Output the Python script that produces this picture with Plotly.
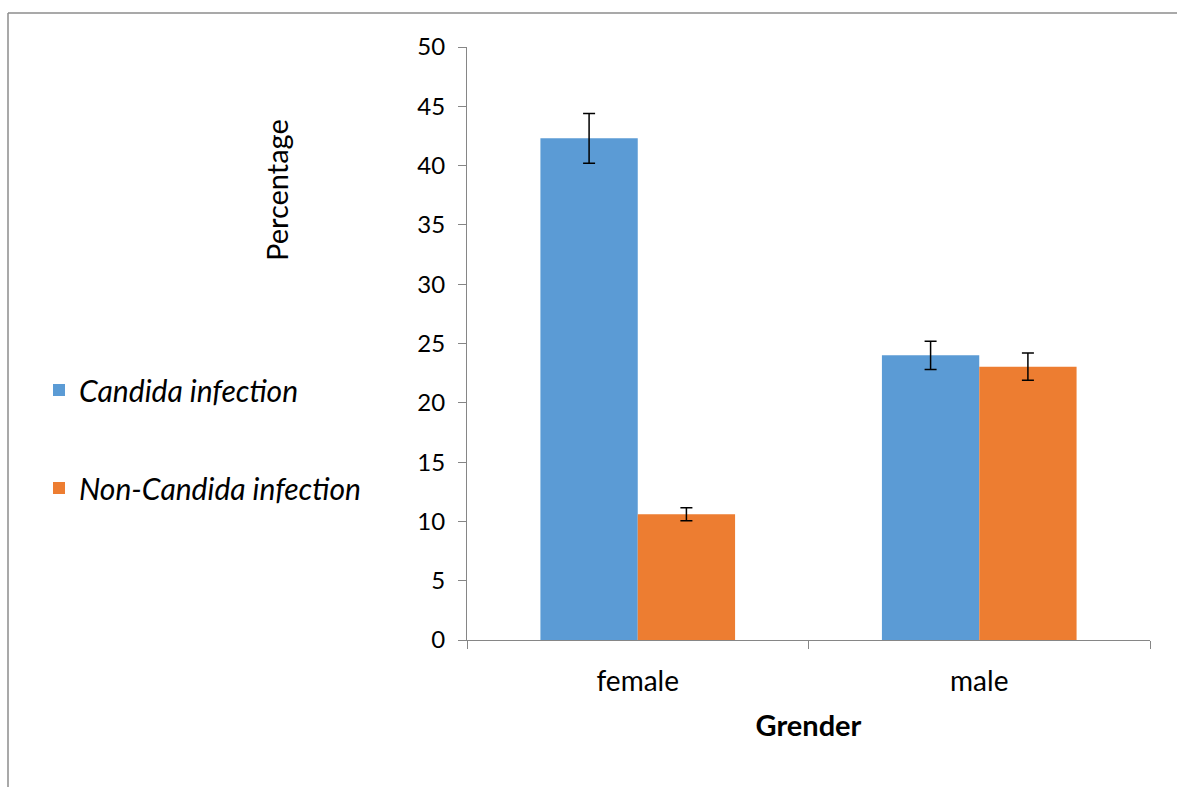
import plotly.graph_objects as go

categories = ["female", "male"]
series_names = ["Candida infection", "Non-Candida infection"]
candida = [42.3, 24.0]
candida_err = [2.1, 1.2]
non_candida = [10.6, 23.05]
non_candida_err = [0.55, 1.15]
colors = ["#5B9BD5", "#ED7D31"]
y_ticks = [0, 5, 10, 15, 20, 25, 30, 35, 40, 45, 50]

FONT = "Lato"

fig = go.Figure()
for i, (name, vals, errs) in enumerate([(series_names[0], candida, candida_err),
                                         (series_names[1], non_candida, non_candida_err)]):
    fig.add_trace(go.Bar(
        x=categories, y=vals, name=name,
        marker=dict(color=colors[i], line=dict(width=0)),
        error_y=dict(type="data", array=errs, visible=True, color="#000000", thickness=1.5, width=6),
        legendgroup=f"g{i}",
    ))

W, H = 1177, 787
ml, mr, mt, mb = 467, 27, 47, 147
pw = W - ml - mr
ph = H - mt - mb

def px_x(px):
    return (px - ml) / pw

def px_y(py):
    return (H - mb - py) / ph

fig.update_layout(
    width=W, height=H,
    margin=dict(l=ml, r=mr, t=mt, b=mb),
    plot_bgcolor="white", paper_bgcolor="white",
    barmode="group", bargap=0.43, bargroupgap=0,
    font=dict(family=FONT, size=22, color="#000000"),
    showlegend=True,
    legend=dict(
        x=px_x(39), xanchor="left", y=px_y(364), yanchor="top",
        font=dict(family=FONT, size=30, color="#000000", style="italic"),
        tracegroupgap=56, itemsizing="constant", bgcolor="rgba(0,0,0,0)",
    ),
    xaxis=dict(
        showline=True, linecolor="#868686", linewidth=1,
        ticks="outside", tickson="boundaries", ticklen=8, tickcolor="#868686",
        tickfont=dict(family=FONT, size=28), ticklabelstandoff=16,
        title=dict(text="<b>Grender</b>", font=dict(family=FONT, size=29), standoff=20),
    ),
    yaxis=dict(
        range=[0, 50], tickvals=y_ticks, showgrid=False, zeroline=False,
        showline=True, linecolor="#868686", linewidth=1,
        ticks="outside", ticklen=8, tickcolor="#868686",
        tickfont=dict(family=FONT, size=24), ticklabelstandoff=8,
    ),
    annotations=[dict(
        text="Percentage", textangle=-90, showarrow=False,
        xref="paper", yref="paper", x=px_x(276), y=px_y(190),
        xanchor="center", yanchor="middle",
        font=dict(family=FONT, size=29, color="#000000"),
    )],
    shapes=[
        dict(type="line", xref="paper", yref="paper", x0=px_x(8), x1=px_x(1190),
             y0=px_y(13), y1=px_y(13), line=dict(color="#8C8C8C", width=1.5)),
        dict(type="line", xref="paper", yref="paper", x0=px_x(8), x1=px_x(8),
             y0=px_y(13), y1=px_y(800), line=dict(color="#8C8C8C", width=1.5)),
    ],
)

fig.write_html("out.html", config={"displayModeBar": False},
               post_script="document.body.style.margin='0';document.body.style.overflow='hidden';")
